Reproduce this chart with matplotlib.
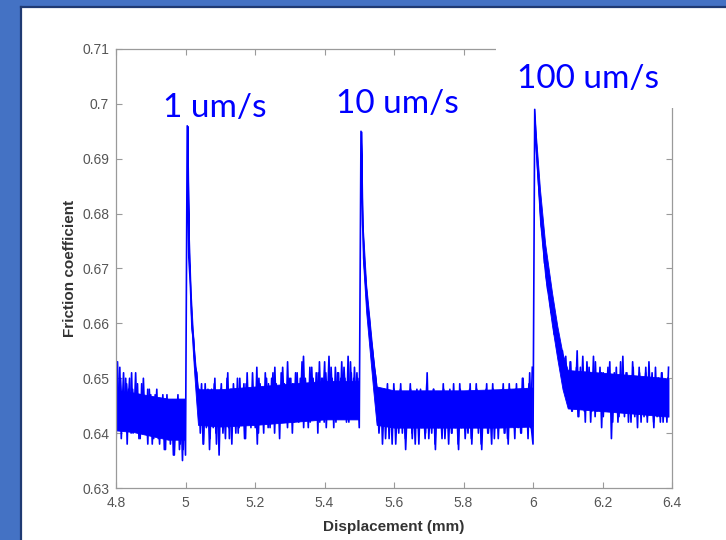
import numpy as np
import matplotlib
matplotlib.use("Agg")
import matplotlib.pyplot as plt
from matplotlib.patches import Rectangle

# ---- data: raw trace (friction in units of 0.001 above 0.600) ----
seg1_range = (4.800, 5.000)
seg1 = [37, 53, 42, 50, 44, 51, 41, 49, 45, 50, 40, 48, 43, 51, 42, 47, 39, 49, 44, 46,
        40, 48, 41, 47, 38, 46, 42, 48, 39, 45, 41, 47, 37, 44, 40, 46, 38, 45, 36, 44,
        41, 47, 37, 45, 35, 46, 36]

seg2_range = (5.005, 5.500)
seg2 = [96, 72, 67, 59, 57, 52, 51, 46,
        43, 49, 38, 47, 41, 48, 37, 46, 42, 49, 40, 47, 36, 48, 42, 46, 39, 50, 41, 47,
        38, 49, 43, 48, 40, 50, 42, 47, 39, 49, 44, 48, 41, 51, 43, 47, 38, 50, 42, 48,
        40, 51, 44, 49, 41, 50, 43, 52, 42, 48, 39, 51, 44, 49, 42, 53, 43, 50, 40, 49,
        45, 51, 42, 50, 44, 54, 43, 49, 41, 52, 45, 50, 43, 51, 40, 53, 44, 50, 42, 51,
        45, 54, 43, 50, 41, 52, 46, 51, 43, 53, 44, 50, 42, 54, 45, 51, 43, 52, 44, 50, 41]

seg3_range = (5.505, 6.000)
seg3 = [95, 78, 71, 67, 63, 61, 57, 55, 52, 50, 46,
        41, 48, 38, 46, 42, 49, 39, 47, 43, 48, 38, 46, 41, 49, 40, 47, 37, 45, 42, 48,
        39, 47, 41, 46, 38, 48, 43, 47, 40, 51, 39, 46, 42, 48, 37, 47, 41, 45, 39, 48,
        42, 46, 38, 47, 40, 49, 41, 46, 37, 48, 42, 47, 39, 45, 41, 49, 38, 46, 43, 48,
        40, 47, 37, 46, 42, 49, 40, 45, 38, 48, 41, 47, 39, 46, 42, 49, 40, 47, 38, 48,
        43, 46, 39, 49, 41, 47, 40, 50, 42, 48, 39, 51, 41, 38]

seg4_range = (6.005, 6.390)
seg4 = [99, 92, 87, 83, 78, 76, 71, 70, 66, 67, 62, 63, 58, 60, 55, 57, 52, 55, 50, 54, 48,
        45, 53, 44, 51, 46, 55, 43, 52, 45, 50, 42, 53, 46, 51, 44, 54, 43, 50, 45, 52,
        41, 51, 44, 49, 46, 53, 39, 50, 44, 52, 42, 49, 45, 54, 43, 51, 44, 50, 42, 53,
        45, 49, 41, 52, 44, 50, 43, 51, 42, 53, 45, 49, 41, 52, 43, 50, 42, 51, 44, 49,
        42, 52]

# ---- data: in-between samples of the same trace (noisy parts only) ----
seg1b_range = (4.8025, 4.9975)
seg1b = [50, 41, 52, 39, 47, 43, 50, 38, 48, 42, 51, 40, 46, 44, 49, 39, 47, 41, 50, 42,
         45, 38, 48, 43, 46, 39, 47, 40, 44, 38, 46, 42, 45, 37, 47, 39, 44, 41, 46, 36,
         43, 40, 45, 38, 44, 37, 45]

seg2b_range = (5.038, 5.498)
seg2b = [48, 40, 46, 38, 49, 42, 45, 39, 48, 41, 50, 38, 47, 43, 49, 40, 46, 42, 51, 39,
         48, 44, 47, 40, 50, 41, 46, 43, 49, 39, 51, 42, 48, 44, 47, 41, 52, 40, 49, 43,
         46, 42, 50, 41, 48, 45, 51, 40, 49, 43, 47, 42, 52, 44, 48, 41, 50, 45, 49, 42,
         51, 43, 47, 44, 53, 41, 50, 46, 48, 42, 52, 44, 49, 43, 51, 42, 50, 46, 53, 41,
         49, 44, 52, 45, 48, 42, 51, 44, 50, 43, 52, 46, 49, 42, 53, 44, 50, 45, 51, 43]

seg3b_range = (5.552, 5.998)
seg3b = [47, 40, 45, 42, 48, 39, 46, 43, 47, 38, 49, 41, 46, 40, 48, 42, 45, 39, 47, 43,
         49, 40, 46, 38, 48, 42, 47, 41, 45, 39, 49, 43, 46, 40, 48, 38, 47, 42, 46, 41,
         49, 39, 45, 43, 48, 40, 47, 42, 46, 38, 49, 41, 47, 43, 45, 40, 48, 39, 46, 42,
         49, 41, 47, 38, 45, 43, 48, 40, 46, 42, 49, 39, 47, 41, 45, 43, 48, 40, 46, 39,
         49, 42, 47, 41, 48, 43, 46, 40, 50, 42, 47, 44, 49, 41, 52]

seg4b_range = (6.098, 6.388)
seg4b = [51, 45, 53, 44, 50, 47, 52, 43, 51, 46, 54, 44, 49, 45, 52, 42, 50, 46, 53, 44,
         48, 45, 51, 43, 50, 47, 52, 44, 49, 42, 51, 46, 50, 43, 53, 45, 49, 44, 51, 42,
         50, 46, 52, 43, 49, 45, 51, 42, 50, 44, 52, 43, 48, 45, 51, 42, 49, 44, 50, 43,
         51, 42, 48, 44, 50]

# ---- data: dense core of the noisy band ----
coreA_x = [4.800, 4.850, 4.900, 4.950, 4.998]
coreA_lo = [0.6405, 0.6402, 0.6395, 0.6388, 0.6388]
coreA_hi = [0.6478, 0.6474, 0.6468, 0.6463, 0.6463]

coreB_x = [5.006, 5.010, 5.015, 5.020, 5.025, 5.030, 5.036, 5.10, 5.20, 5.30, 5.40, 5.498]
coreB_lo = [0.6940, 0.6720, 0.6620, 0.6560, 0.6510, 0.6465, 0.6415, 0.6412, 0.6415, 0.6420,
            0.6425, 0.6425]
coreB_hi = [0.6960, 0.6760, 0.6660, 0.6600, 0.6550, 0.6515, 0.6480, 0.6480, 0.6485, 0.6490,
            0.6495, 0.6495]

coreC_x = [5.506, 5.510, 5.520, 5.530, 5.540, 5.550, 5.60, 5.70, 5.80, 5.90, 5.998]
coreC_lo = [0.6930, 0.6720, 0.6620, 0.6550, 0.6480, 0.6415, 0.6410, 0.6410, 0.6410, 0.6410,
            0.6412]
coreC_hi = [0.6950, 0.6780, 0.6670, 0.6605, 0.6540, 0.6485, 0.6478, 0.6478, 0.6478, 0.6480,
            0.6483]

coreD_x = [6.003, 6.020, 6.035, 6.055, 6.070, 6.085, 6.10, 6.20, 6.30, 6.39]
coreD_lo = [0.6970, 0.6785, 0.6685, 0.6595, 0.6535, 0.6480, 0.6445, 0.6440, 0.6435, 0.6430]
coreD_hi = [0.6990, 0.6845, 0.6745, 0.6655, 0.6595, 0.6545, 0.6515, 0.6510, 0.6505, 0.6500]

speed_labels = ["1 um/s", "10 um/s", "100 um/s"]
x_ticks = [4.8, 5.0, 5.2, 5.4, 5.6, 5.8, 6.0, 6.2, 6.4]
y_ticks = [0.63, 0.64, 0.65, 0.66, 0.67, 0.68, 0.69, 0.70, 0.71]
x_tick_labels = ["4.8", "5", "5.2", "5.4", "5.6", "5.8", "6", "6.2", "6.4"]
y_tick_labels = ["0.63", "0.64", "0.65", "0.66", "0.67", "0.68", "0.69", "0.7", "0.71"]


def build(parts):
    xs, ys = [], []
    for rng, seg in parts:
        xs.append(np.linspace(rng[0], rng[1], len(seg)))
        ys.append(0.6 + np.array(seg, dtype=float) / 1000.0)
    return np.concatenate(xs), np.concatenate(ys)


x, y = build([(seg1_range, seg1), (seg2_range, seg2), (seg3_range, seg3), (seg4_range, seg4)])
extra = [(seg1b_range, seg1b), (seg2b_range, seg2b), (seg3b_range, seg3b), (seg4b_range, seg4b)]

W, H = 726, 540
fig = plt.figure(figsize=(W / 100, H / 100), dpi=100)
fig.patch.set_facecolor("#4472C4")


def fx(px):
    return px / W


def fy(py):
    return 1 - py / H


# white slide area
fig.add_artist(Rectangle((fx(22), 0), fx(W - 22) + 0.01, fy(7), transform=fig.transFigure,
                         facecolor="white", edgecolor="none", zorder=-2))
# dark border lines
fig.add_artist(plt.Line2D([fx(21), fx(21)], [0, fy(6.5)], transform=fig.transFigure,
                          color="#1F3A73", lw=1.6, zorder=-1))
fig.add_artist(plt.Line2D([fx(21), 1], [fy(6.5), fy(6.5)], transform=fig.transFigure,
                          color="#1F3A73", lw=1.6, zorder=-1))

ax_l, ax_r, ax_t, ax_b = 116, 672, 49, 488
ax = fig.add_axes([fx(ax_l), fy(ax_b), fx(ax_r - ax_l), (ax_b - ax_t) / H])
ax.set_facecolor("white")

blue = "#0000FF"
for cx, clo, chi in [(coreA_x, coreA_lo, coreA_hi), (coreB_x, coreB_lo, coreB_hi),
                     (coreC_x, coreC_lo, coreC_hi), (coreD_x, coreD_lo, coreD_hi)]:
    ax.fill_between(cx, clo, chi, color=blue, lw=0.6, edgecolor=blue)
for rng, seg in extra:
    ex = np.linspace(rng[0], rng[1], len(seg))
    ey = 0.6 + np.array(seg, dtype=float) / 1000.0
    ax.plot(ex, ey, color=blue, lw=1.2)
ax.plot(x, y, color=blue, lw=1.2)

ax.set_xlim(4.8, 6.4)
ax.set_ylim(0.63, 0.71)
ax.set_xticks(x_ticks)
ax.set_xticklabels(x_tick_labels)
ax.set_yticks(y_ticks)
ax.set_yticklabels(y_tick_labels)

font = ["Liberation Sans", "DejaVu Sans"]
for s in ax.spines.values():
    s.set_color("#9A9A9A")
    s.set_linewidth(0.9)
ax.tick_params(direction="in", length=4, width=0.8, color="#9A9A9A",
               top=True, right=True, labelsize=10, labelcolor="#555555")
ax.tick_params(axis="x", pad=6)
ax.tick_params(axis="y", pad=5)
for lab in ax.get_xticklabels() + ax.get_yticklabels():
    lab.set_family(font)

ax.set_xlabel("Displacement (mm)", fontsize=11, fontweight="bold", color="#333333",
              family=font, labelpad=7)
ax.set_ylabel("Friction coefficient", fontsize=11, fontweight="bold", color="#333333",
              family=font, labelpad=4)

# white box behind the 100 um/s label (covers part of the frame)
fig.add_artist(Rectangle((fx(496), fy(108)), fx(685 - 496), (108 - 40) / H,
                         transform=fig.transFigure, facecolor="white", edgecolor="none",
                         zorder=5))

label_pos = [(215, 117), (397, 113), (588, 88)]
for txt, (px, py) in zip(speed_labels, label_pos):
    fig.text(fx(px), fy(py), txt, ha="center", va="baseline", fontsize=24,
             color=blue, family=["Lato", "DejaVu Sans"], zorder=6)

fig.savefig("out.png", dpi=100, facecolor=fig.get_facecolor())
